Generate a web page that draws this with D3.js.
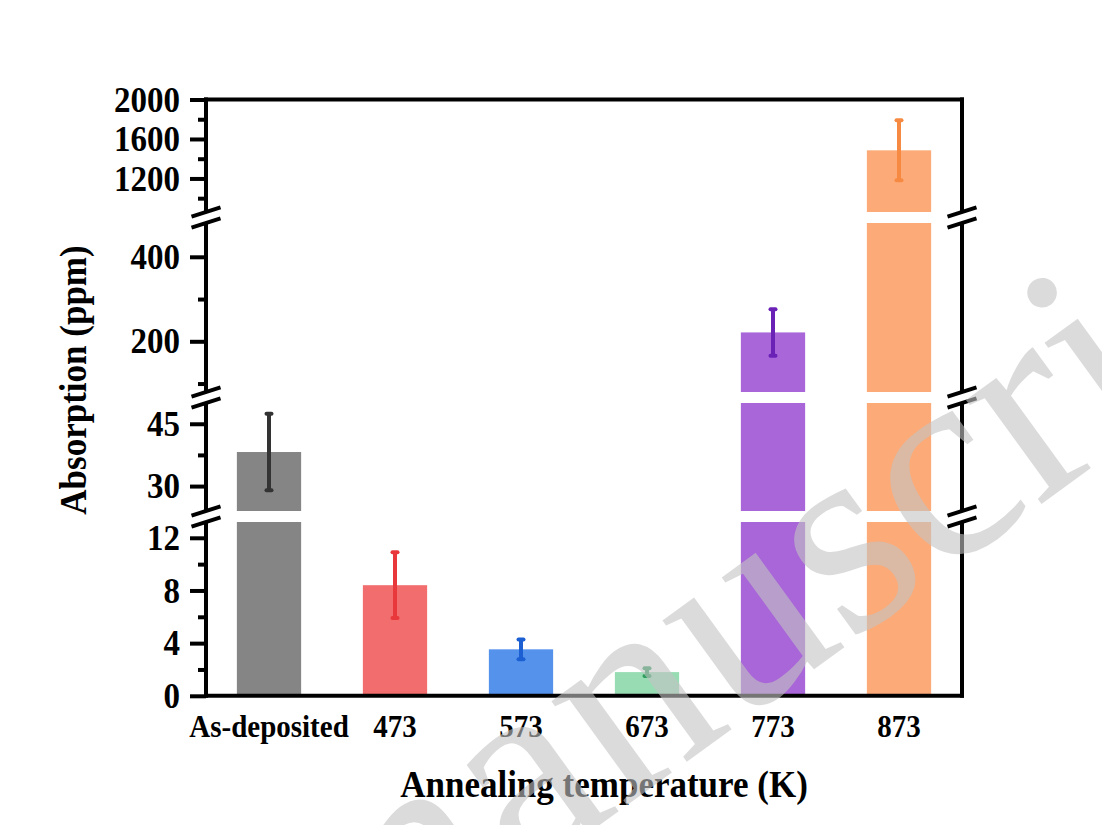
<!DOCTYPE html>
<html><head><meta charset="utf-8">
<script src="https://cdn.jsdelivr.net/npm/d3@7"></script>
<style>body{margin:0;background:#fff}</style>
</head><body>
<svg id="chart" width="1102" height="825"></svg>
<script>
// ---- data ----
const categories = ["As-deposited","473","573","673","773","873"];
const values = [38.2, 8.4, 3.53, 1.8, 221, 1485];
const errors = [9.2, 2.5, 0.75, 0.3, 55, 304];
const barColors = ["#858585","#f26d6d","#5592ec","#98dcb4","#a866d8","#fcab78"];
const errColors = ["#333333","#e8383c","#1b5fd2","#2e9e5e","#6a22b6","#f68a42"];
const segDomains = [[0,13.2],[24,50],[80,480],[860,2000]];
const segMajor = [[0,4,8,12],[30,45],[200,400],[1200,1600,2000]];
const segMinor = [[2,6,10],[37.5],[100,300],[1000,1400,1800]];
const xTitle = "Annealing temperature (K)";
const yTitle = "Absorption (ppm)";
const watermark = "manuscript";

// ---- layout ----
const L = 206, R = 962, T = 99.5, B = 695.8;
const segPix = [[B, 522],[511, 403],[392, 223],[212, T]];
const FONT = "'Liberation Serif','Times New Roman',serif";
const STRETCH = 1.1;

function condense(sel, f){
  sel.each(function(){
    const t = d3.select(this);
    const w = this.getComputedTextLength();
    const fs = +t.attr("font-size");
    t.attr("font-size", fs*f).attr("textLength", w).attr("lengthAdjust","spacingAndGlyphs");
  });
}

const svg = d3.select("#chart");
svg.append("rect").attr("width",1102).attr("height",825).attr("fill","#fff");

const x = d3.scaleBand().domain(categories).range([L, R]).paddingInner(0.49).paddingOuter(0.245);
const ys = segDomains.map((d,i)=>d3.scaleLinear().domain(d).range(segPix[i]));

// bars
const gBars = svg.append("g");
categories.forEach((c,i)=>{
  const v = values[i];
  ys.forEach((y,s)=>{
    const d = segDomains[s];
    if (v <= d[0]) return;
    const hi = Math.min(v, d[1]);
    gBars.append("rect")
      .attr("x", x(c)).attr("width", x.bandwidth())
      .attr("y", y(hi)).attr("height", y(d[0]) - y(hi))
      .attr("fill", barColors[i]);
  });
});

// error bars
const gErr = svg.append("g");
categories.forEach((c,i)=>{
  const v = values[i], e = errors[i];
  const s = segDomains.findIndex(d=>v>=d[0] && v<=d[1]);
  const y = ys[s];
  const cx = x(c) + x.bandwidth()/2;
  const col = errColors[i];
  gErr.append("line").attr("x1",cx).attr("x2",cx)
    .attr("y1",y(v-e)).attr("y2",y(v+e))
    .attr("stroke",col).attr("stroke-width",4);
  [v-e, v+e].forEach(t=>{
    gErr.append("line").attr("x1",cx-2.5).attr("x2",cx+2.5)
      .attr("y1",y(t)).attr("y2",y(t))
      .attr("stroke",col).attr("stroke-width",4).attr("stroke-linecap","round");
  });
});

// y axes (per segment)
ys.forEach((y,s)=>{
  const gMaj = svg.append("g").attr("transform",`translate(${L},0)`)
    .call(d3.axisLeft(y).tickValues(segMajor[s]).tickSize(16).tickPadding(10).tickFormat(d3.format("d")));
  gMaj.select(".domain").remove();
  gMaj.selectAll(".tick line").attr("stroke","#000").attr("stroke-width",4);
  const tt = gMaj.selectAll(".tick text").attr("font-family",FONT).attr("font-weight","bold")
    .attr("font-size",33).attr("fill","#000");
  condense(tt, STRETCH);
  const gMin = svg.append("g").attr("transform",`translate(${L},0)`)
    .call(d3.axisLeft(y).tickValues(segMinor[s]).tickSize(8).tickFormat(""));
  gMin.select(".domain").remove();
  gMin.selectAll(".tick line").attr("stroke","#000").attr("stroke-width",4);
});

// x axis labels
const gx = svg.append("g").attr("transform",`translate(0,${B})`)
  .call(d3.axisBottom(x).tickSize(0).tickPadding(18.6));
gx.select(".domain").remove();
const xt = gx.selectAll(".tick text").attr("font-family",FONT).attr("font-weight","bold")
  .attr("font-size",29).attr("fill","#000");
condense(xt, STRETCH);

// frame
const frame = svg.append("g").attr("stroke","#000").attr("stroke-width",4).attr("stroke-linecap","square");
frame.append("line").attr("x1",L).attr("x2",R).attr("y1",T).attr("y2",T);
frame.append("line").attr("x1",L).attr("x2",R).attr("y1",B).attr("y2",B);
frame.append("line").attr("x1",L).attr("x2",L).attr("y1",T).attr("y2",B);
frame.append("line").attr("x1",R).attr("x2",R).attr("y1",T).attr("y2",B);

// axis breaks
const breakCenters = [];
for (let s=0; s<segPix.length-1; s++) breakCenters.push((segPix[s][1] + segPix[s+1][0])/2);
const gBrk = svg.append("g");
breakCenters.forEach(c=>{
  [L, R].forEach(ax=>{
    const hw = 14.5, sl = 4.7, off = 5.5;
    gBrk.append("polygon")
      .attr("points",[[ax-hw,c-off+sl],[ax+hw,c-off-sl],[ax+hw,c+off-sl],[ax-hw,c+off+sl]].map(p=>p.join(",")).join(" "))
      .attr("fill","#fff");
    [-off, off].forEach(o=>{
      gBrk.append("line").attr("x1",ax-hw).attr("y1",c+o+sl)
        .attr("x2",ax+hw).attr("y2",c+o-sl)
        .attr("stroke","#000").attr("stroke-width",4);
    });
  });
});

// titles
const xtt = svg.append("text").attr("x",604).attr("y",797).attr("text-anchor","middle")
  .attr("font-family",FONT).attr("font-weight","bold").attr("font-size",35).text(xTitle);
condense(xtt, STRETCH);
const ytt = svg.append("text").attr("transform","translate(86,380) rotate(-90)").attr("text-anchor","middle")
  .attr("font-family",FONT).attr("font-weight","bold").attr("font-size",35).text(yTitle);
condense(ytt, STRETCH);

// watermark
svg.append("text").attr("transform","translate(345,1010) rotate(-36)")
  .attr("font-family",FONT).attr("font-size",280).attr("fill","#c4c4c4").attr("opacity",0.6)
  .text(watermark);
</script>
</body></html>
